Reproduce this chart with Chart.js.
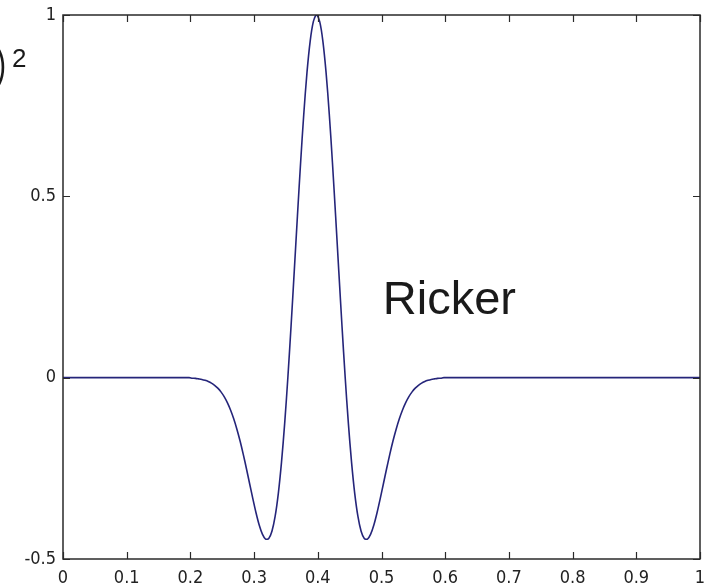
<!DOCTYPE html>
<html>
<head>
<meta charset="utf-8">
<script src="https://cdn.jsdelivr.net/npm/chart.js@4.4.1/dist/chart.umd.min.js"></script>
<style>
  html, body { margin: 0; padding: 0; background: #fff; }
  #wrap { width: 709px; height: 586px; position: relative; }
</style>
</head>
<body>
<div id="wrap"><canvas id="chart"></canvas></div>
<script>
// time samples (s) and wavelet amplitude
const times = [
  0, 0.198, 0.203, 0.208, 0.213, 0.218, 0.223, 0.228, 0.233, 0.238, 0.243,
  0.248, 0.253, 0.258, 0.263, 0.268, 0.273, 0.278, 0.283, 0.288, 0.293,
  0.298, 0.303, 0.308, 0.313, 0.318, 0.323, 0.328, 0.333, 0.338, 0.343,
  0.348, 0.353, 0.358, 0.363, 0.368, 0.373, 0.378, 0.383, 0.388, 0.393,
  0.398,
  0.403, 0.408, 0.413, 0.418, 0.423, 0.428, 0.433, 0.438, 0.443, 0.448,
  0.453, 0.458, 0.463, 0.468, 0.473, 0.478, 0.483, 0.488, 0.493, 0.498,
  0.503, 0.508, 0.513, 0.518, 0.523, 0.528, 0.533, 0.538, 0.543, 0.548,
  0.553, 0.558, 0.563, 0.568, 0.573, 0.578, 0.583, 0.588, 0.593, 0.598, 1
];
const amplitude = [
  0, 0, -0.0015, -0.002, -0.0034, -0.005, -0.0074, -0.0106, -0.015, -0.0211, -0.0289,
  -0.0392, -0.0524, -0.0689, -0.0891, -0.1134, -0.1421, -0.1748, -0.2115, -0.2511, -0.2924,
  -0.3337, -0.3725, -0.4064, -0.4314, -0.445, -0.4433, -0.4233, -0.3825, -0.3195, -0.2336,
  -0.1261, 0.0004, 0.1418, 0.2923, 0.4451, 0.5928, 0.7272, 0.841, 0.9275, 0.9816,
  1,
  0.9816, 0.9275, 0.841, 0.7272, 0.5928, 0.4451, 0.2923, 0.1418, 0.0004, -0.1261,
  -0.2336, -0.3195, -0.3825, -0.4233, -0.4433, -0.445, -0.4314, -0.4064, -0.3725, -0.3337,
  -0.2924, -0.2511, -0.2115, -0.1748, -0.1421, -0.1134, -0.0891, -0.0689, -0.0524, -0.0392,
  -0.0289, -0.0211, -0.015, -0.0106, -0.0074, -0.005, -0.0034, -0.002, -0.0015, 0, 0
];
const xTicks = [0, 0.1, 0.2, 0.3, 0.4, 0.5, 0.6, 0.7, 0.8, 0.9, 1];
const yTicks = [-0.5, 0, 0.5, 1];
const waveLabel = "Ricker";

const tickFont = { family: "'DejaVu Sans Condensed', 'Liberation Sans Narrow', 'Liberation Sans', sans-serif", size: 18 };

// box + inward ticks on all four sides, like the matlab axes
const boxPlugin = {
  id: "box",
  afterDatasetsDraw(chart) {
    const { ctx, chartArea: a, scales } = chart;
    ctx.save();
    ctx.strokeStyle = "#2a2a2a";
    ctx.lineWidth = 1.5;
    ctx.strokeRect(a.left, a.top, a.right - a.left, a.bottom - a.top);
    ctx.lineWidth = 1.2;
    ctx.beginPath();
    xTicks.forEach(v => {
      const px = Math.round(scales.x.getPixelForValue(v)) + 0.5;
      ctx.moveTo(px, a.bottom); ctx.lineTo(px, a.bottom - 7);
      ctx.moveTo(px, a.top); ctx.lineTo(px, a.top + 7);
    });
    yTicks.forEach(v => {
      const py = Math.round(scales.y.getPixelForValue(v)) + 0.5;
      ctx.moveTo(a.left, py); ctx.lineTo(a.left + 7, py);
      ctx.moveTo(a.right, py); ctx.lineTo(a.right - 7, py);
    });
    ctx.stroke();

    // label inside the axes
    ctx.fillStyle = "#1a1a1a";
    ctx.font = "47px 'Liberation Sans', Arial, sans-serif";
    ctx.textBaseline = "alphabetic";
    ctx.fillText(waveLabel, scales.x.getPixelForValue(0.502), scales.y.getPixelForValue(0.175));

    // clipped piece of the formula at the far left
    ctx.font = "300 53px 'Open Sans', 'Liberation Sans', sans-serif";
    ctx.fillText(")", -8, 82);
    ctx.font = "26px 'Liberation Sans', sans-serif";
    ctx.fillText("2", 12, 67);
    ctx.restore();
  }
};

new Chart(document.getElementById("chart"), {
  type: "line",
  data: {
    datasets: [{
      data: times.map((t, i) => ({ x: t, y: amplitude[i] })),
      borderColor: "#25257a",
      borderWidth: 1.6,
      pointRadius: 0,
      tension: 0.3,
      fill: false
    }]
  },
  options: {
    responsive: true,
    maintainAspectRatio: false,
    animation: false,
    layout: { padding: { top: 15, right: 9, left: 0, bottom: 0 } },
    plugins: { legend: { display: false }, tooltip: { enabled: false } },
    scales: {
      x: {
        type: "linear",
        min: 0, max: 1,
        afterBuildTicks: s => { s.ticks = xTicks.map(v => ({ value: v })); },
        afterFit: s => { s.height = 27; s.paddingLeft = 0; s.paddingRight = 0; },
        grid: { display: false, drawTicks: false },
        border: { display: false },
        ticks: {
          padding: 9,
          color: "#222",
          font: tickFont,
          maxRotation: 0,
          autoSkip: false,
          callback: v => String(Math.round(v * 10) / 10)
        }
      },
      y: {
        type: "linear",
        min: -0.5, max: 1,
        afterBuildTicks: s => { s.ticks = yTicks.map(v => ({ value: v })); },
        afterFit: s => { s.width = 63; s.paddingTop = 0; s.paddingBottom = 0; },
        grid: { display: false, drawTicks: false },
        border: { display: false },
        ticks: {
          padding: 7,
          color: "#222",
          font: tickFont,
          autoSkip: false,
          callback: v => String(v)
        }
      }
    }
  },
  plugins: [boxPlugin]
});
</script>
</body>
</html>
